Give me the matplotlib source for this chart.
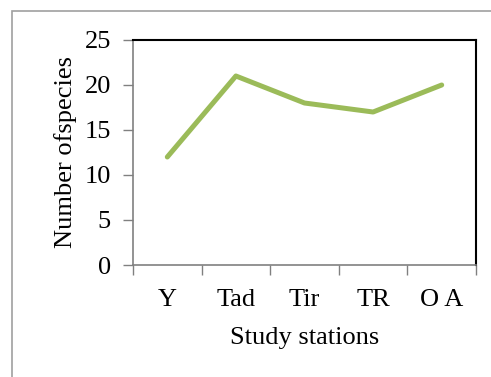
import matplotlib.pyplot as plt
from matplotlib.patches import Rectangle

stations = ['Y', 'Tad', 'Tir', 'TR', 'O A']
species = [12, 21, 18, 17, 20]
yticks = [0, 5, 10, 15, 20, 25]

plt.rcParams['font.family'] = ['Liberation Serif', 'DejaVu Serif']

fig = plt.figure(figsize=(4.91, 3.77), dpi=100)
ax = fig.add_axes([133 / 491, 1 - 265 / 377, 343 / 491, 225 / 377])

# outer chart frame, partly cut off
fig.patches.append(Rectangle((12 / 491, -0.1), 1.2, 1 - 11 / 377 + 0.1,
                             transform=fig.transFigure, fill=False,
                             edgecolor='#a0a0a0', linewidth=1.2))

x = range(len(stations))
ax.plot(x, species, color='#9bbb59', linewidth=3.6, solid_capstyle='round')

ax.set_xlim(-0.5, len(stations) - 0.5)
ax.set_ylim(0, 25)
ax.set_yticks(yticks)
ax.set_xticks(x)
ax.set_xticklabels(stations)
ax.set_xticks([i - 0.5 for i in range(len(stations) + 1)], minor=True)
ax.tick_params(axis='x', which='major', length=0, pad=17, labelsize=19)
ax.tick_params(axis='x', which='minor', length=7, color='#808080', width=1)
ax.tick_params(axis='y', length=7, color='#808080', width=1, pad=9, labelsize=19)

for side in ['left', 'bottom']:
    ax.spines[side].set_color('#808080')
    ax.spines[side].set_linewidth(1.2)
for side in ['top', 'right']:
    ax.spines[side].set_color('black')
    ax.spines[side].set_linewidth(1.5)

ax.set_xlabel('Study stations', fontsize=19, labelpad=12)
ax.set_ylabel('Number ofspecies', fontsize=19, labelpad=5)

fig.savefig('out.png', dpi=100)
